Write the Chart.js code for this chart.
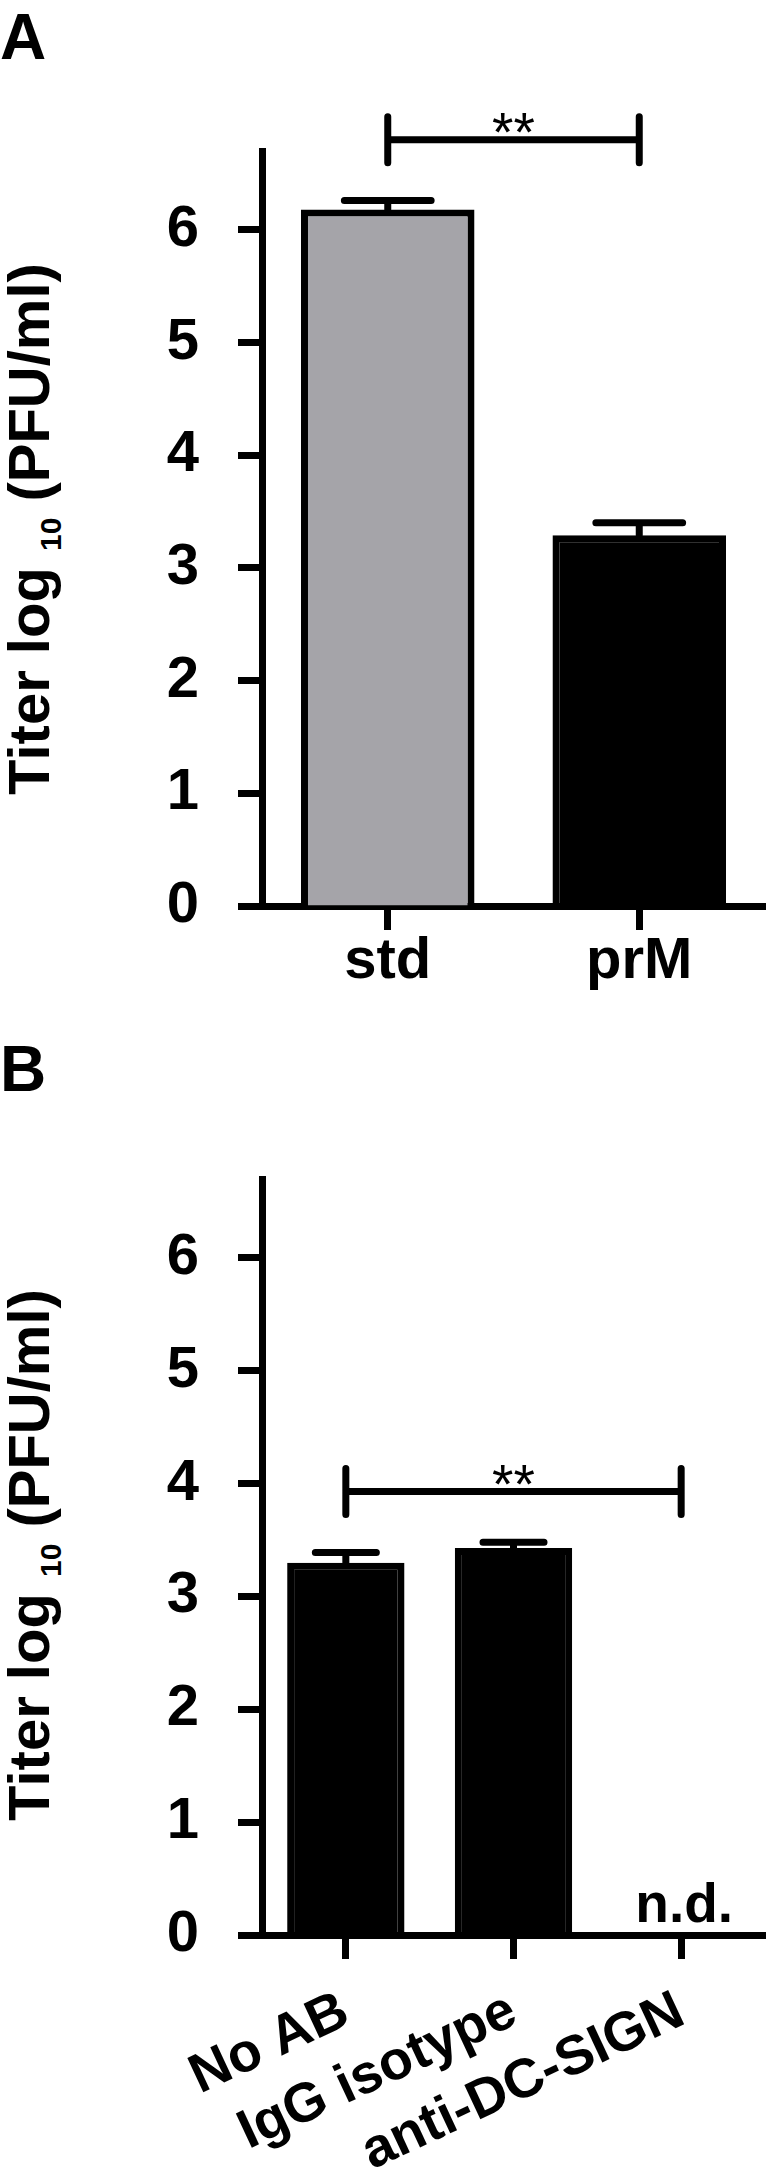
<!DOCTYPE html>
<html>
<head>
<meta charset="utf-8">
<script src="https://cdn.jsdelivr.net/npm/chart.js@4.4.1/dist/chart.umd.min.js"></script>
<style>
html,body{margin:0;padding:0;background:#fff;}
body{width:776px;height:2181px;position:relative;overflow:hidden;font-family:'Liberation Sans',Arial,sans-serif;color:#000;}
.panel{position:absolute;left:0;width:776px;}
canvas{position:absolute;left:0;top:0;}
.letter{position:absolute;left:0;font-weight:bold;font-size:64px;line-height:64px;}
.ytitle{position:absolute;width:700px;height:58px;line-height:58px;text-align:center;font-weight:bold;font-size:58px;transform:rotate(-90deg);white-space:nowrap;}
.ytitle .sub{font-size:30px;position:relative;top:12px;}
</style>
</head>
<body>
<div class="letter" style="top:5px;">A</div>
<div class="ytitle" style="left:-321px;top:500px;">Titer log <span class="sub">10</span> (PFU/ml)</div>
<div class="panel" style="top:0;height:1000px;"><canvas id="cA" width="776" height="1000"></canvas></div>

<div class="letter" style="top:1037px;">B</div>
<div class="ytitle" style="left:-321px;top:1526px;">Titer log <span class="sub">10</span> (PFU/ml)</div>
<div class="panel" style="top:1000px;height:1181px;"><canvas id="cB" width="776" height="1181"></canvas></div>

<script>
// ---------- data ----------
const categoriesA = ['std', 'prM'];
const meansA = [6.18, 3.29];
const semA = [0.08, 0.11];
const colorsA = ['#a5a4a9', '#000000'];
const sigA = [0, 1, 6.80, '**'];

const categoriesB = ['No AB', 'IgG isotype', 'anti-DC-SIGN'];
const meansB = [3.30, 3.43, null];
const semB = [0.09, 0.05, null];
const colorsB = ['#000000', '#000000', '#000000'];
const notesB = ['', '', 'n.d.'];
const sigB = [0, 2, 3.93, '**'];

const yTicks = [0, 1, 2, 3, 4, 5, 6];
const yMax = 6.7;

// ---------- helpers ----------
const FAM = "'Liberation Sans', Arial, sans-serif";
const LW = 7;

const errorBarPlugin = {
  id: 'errbars',
  afterDatasetsDraw(chart, args, opts) {
    const ctx = chart.ctx;
    const ys = chart.scales.y;
    const xs = chart.scales.x;
    const meta = chart.getDatasetMeta(0);
    ctx.save();
    ctx.strokeStyle = '#000';
    ctx.lineWidth = LW;
    ctx.lineCap = 'round';
    meta.data.forEach((bar, i) => {
      const m = opts.means[i], e = opts.errs[i];
      if (m == null || e == null) return;
      const yTop = ys.getPixelForValue(m);
      const yE = ys.getPixelForValue(m + e);
      const half = bar.width * opts.capFrac / 2;
      ctx.beginPath();
      ctx.moveTo(bar.x, yTop);
      ctx.lineTo(bar.x, yE);
      ctx.moveTo(bar.x - half, yE);
      ctx.lineTo(bar.x + half, yE);
      ctx.stroke();
    });
    // significance bracket
    const s = opts.sig;
    if (s) {
      const x1 = xs.getPixelForValue(s[0]);
      const x2 = xs.getPixelForValue(s[1]);
      const yb = ys.getPixelForValue(s[2]);
      ctx.beginPath();
      ctx.moveTo(x1, yb); ctx.lineTo(x2, yb);
      ctx.moveTo(x1, yb - 23); ctx.lineTo(x1, yb + 23);
      ctx.moveTo(x2, yb - 23); ctx.lineTo(x2, yb + 23);
      ctx.stroke();
      ctx.fillStyle = '#000';
      ctx.font = '55px ' + FAM;
      ctx.textAlign = 'center';
      ctx.textBaseline = 'alphabetic';
      ctx.fillText(s[3], (x1 + x2) / 2, yb + 11);
    }
    // notes (n.d.)
    if (opts.notes) {
      ctx.fillStyle = '#000';
      ctx.font = 'bold 55px ' + FAM;
      ctx.textAlign = 'center';
      ctx.textBaseline = 'alphabetic';
      opts.notes.forEach((t, i) => {
        if (!t) return;
        ctx.fillText(t, xs.getPixelForValue(i) + 3, ys.getPixelForValue(0) - 13);
      });
    }
    ctx.restore();
  }
};

function makeChart(id, cats, means, errs, colors, sig, notes, cfg) {
  return new Chart(document.getElementById(id), {
    type: 'bar',
    data: {
      labels: cats,
      datasets: [{
        data: means,
        backgroundColor: colors,
        borderColor: '#000',
        borderWidth: LW,
        borderSkipped: 'start',
        categoryPercentage: 1,
        barPercentage: cfg.barPct
      }]
    },
    plugins: [errorBarPlugin],
    options: {
      responsive: false,
      animation: false,
      devicePixelRatio: 1,
      layout: { padding: { top: cfg.padTop, right: 11, left: 0, bottom: 0 } },
      plugins: {
        legend: { display: false },
        tooltip: { enabled: false },
        errbars: { means: means, errs: errs, capFrac: cfg.capFrac, sig: sig, notes: notes }
      },
      scales: {
        x: {
          offset: true,
          z: 1,
          grid: { offset: false, drawOnChartArea: false, tickLength: 24, tickWidth: LW, tickColor: '#000' },
          border: { display: true, color: '#000', width: LW },
          ticks: {
            font: { family: FAM, size: cfg.xFont, weight: 'bold' },
            color: '#000',
            padding: cfg.xPad,
            minRotation: cfg.rot, maxRotation: cfg.rot,
            autoSkip: false
          },
          afterFit: s => { s.height = cfg.xHeight; }
        },
        y: {
          min: 0, max: yMax,
          afterBuildTicks: s => { s.ticks = yTicks.map(v => ({ value: v })); },
          grid: { drawOnChartArea: false, tickLength: 24, tickWidth: LW, tickColor: '#000' },
          border: { display: true, color: '#000', width: LW },
          ticks: {
            font: { family: FAM, size: 58, weight: 'bold' },
            color: '#000',
            padding: 39,
            autoSkip: false
          },
          afterFit: s => { s.width = 262; }
        }
      }
    }
  });
}

makeChart('cA', categoriesA, meansA, semA, colorsA, sigA, null,
  { barPct: 0.69, capFrac: 0.5, padTop: 151, xHeight: 94, xFont: 58, xPad: -3, rot: 0 });
makeChart('cB', categoriesB, meansB, semB, colorsB, sigB, notesB,
  { barPct: 0.70, capFrac: 0.52, padTop: 179, xHeight: 246, xFont: 55, xPad: 20, rot: 25 });
</script>
</body>
</html>
